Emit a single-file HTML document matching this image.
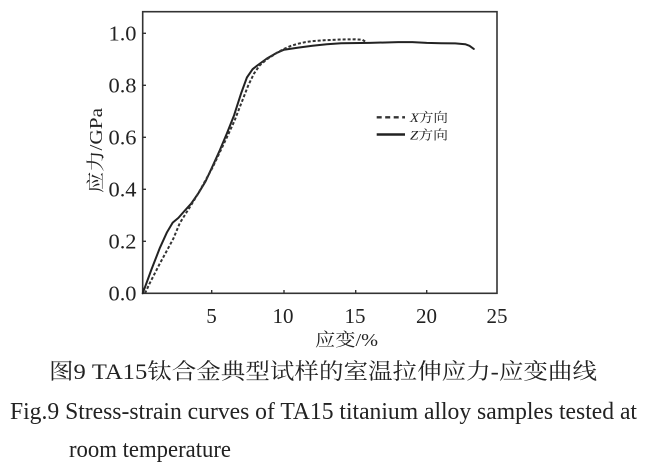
<!DOCTYPE html>
<html>
<head>
<meta charset="utf-8">
<style>
  html, body { margin: 0; padding: 0; background: #ffffff; }
  svg { display: block; }
  .serif { font-family: "Liberation Serif", "Noto Serif CJK SC", serif; fill: #222; }
  .cjk { font-family: "Liberation Serif", "Noto Serif CJK SC", "Noto Sans CJK SC", serif; fill: #222; }
</style>
</head>
<body>
<svg width="645" height="471" viewBox="0 0 645 471" xmlns="http://www.w3.org/2000/svg">
  <rect x="0" y="0" width="645" height="471" fill="#ffffff"/>

  <!-- frame -->
  <rect x="142.7" y="11.7" width="354.3" height="281.6" fill="none" stroke="#333" stroke-width="1.6"/>

  <!-- y ticks -->
  <g stroke="#333" stroke-width="1.4">
    <line x1="142.7" y1="33.3" x2="146" y2="33.3"/>
    <line x1="142.7" y1="85.3" x2="146" y2="85.3"/>
    <line x1="142.7" y1="137.3" x2="146" y2="137.3"/>
    <line x1="142.7" y1="189.3" x2="146" y2="189.3"/>
    <line x1="142.7" y1="241.3" x2="146" y2="241.3"/>
    <!-- x ticks -->
    <line x1="211.7" y1="293.3" x2="211.7" y2="290"/>
    <line x1="284" y1="293.3" x2="284" y2="290"/>
    <line x1="355.7" y1="293.3" x2="355.7" y2="290"/>
    <line x1="426.7" y1="293.3" x2="426.7" y2="290"/>
  </g>

  <!-- y tick labels -->
  <g class="serif" font-size="21" text-anchor="end">
    <text x="136.5" y="40.3" textLength="28" lengthAdjust="spacingAndGlyphs">1.0</text>
    <text x="136.5" y="92.3" textLength="28" lengthAdjust="spacingAndGlyphs">0.8</text>
    <text x="136.5" y="144.3" textLength="28" lengthAdjust="spacingAndGlyphs">0.6</text>
    <text x="136.5" y="196.3" textLength="28" lengthAdjust="spacingAndGlyphs">0.4</text>
    <text x="136.5" y="248.3" textLength="28" lengthAdjust="spacingAndGlyphs">0.2</text>
    <text x="136.5" y="300.3" textLength="28" lengthAdjust="spacingAndGlyphs">0.0</text>
  </g>

  <!-- x tick labels -->
  <g class="serif" font-size="21" text-anchor="middle">
    <text x="211.5" y="323">5</text>
    <text x="283" y="323">10</text>
    <text x="355" y="323">15</text>
    <text x="426.5" y="323">20</text>
    <text x="497" y="323">25</text>
  </g>

  <!-- axis labels -->
  <text class="cjk" x="315" y="346" font-size="18" textLength="63" lengthAdjust="spacingAndGlyphs">应变/%</text>
  <text class="cjk" font-size="18" transform="translate(102,193) rotate(-90)" x="0" y="0" textLength="85" lengthAdjust="spacingAndGlyphs">应力/GPa</text>

  <!-- Z curve (solid) -->
  <polyline fill="none" stroke="#222" stroke-width="2" stroke-linejoin="round" stroke-linecap="round"
    points="142.7,293.3 145.6,285.5 151.3,269.9 159.9,247.8 167.0,232.2 172.7,222.6 178.4,217.9 184.1,211.4 191.2,203.6 198.4,193.2 205.5,181.5 212.7,165.9 219.8,150.3 226.9,133.4 234.1,115.2 241.2,93.1 246.9,77.5 252.6,69.2 256.9,65.8 266.9,58.5 276.9,52.8 284.0,49.7 298.3,47.6 312.5,45.8 326.8,44.2 341.1,43.2 369.6,42.9 398.2,42.1 412.4,42.1 426.7,42.9 441.0,43.2 455.2,43.4 465.2,44.2 469.5,45.8 473.8,48.9"/>

  <!-- X curve (dashed) -->
  <polyline fill="none" stroke="#333" stroke-width="2" stroke-dasharray="3 2" stroke-linejoin="round"
    points="145.0,293.3 149.9,282.9 159.9,263.4 167.0,250.4 173.3,238.7 179.8,223.1 185.5,214.0 191.2,204.9 198.4,193.2 212.7,167.2 226.9,137.3 234.1,121.7 241.2,103.5 248.3,85.3 254.0,73.6 259.7,65.3 266.9,59.3 276.9,52.8 284.0,48.9 291.1,45.8 298.3,43.7 305.4,42.1 312.5,41.1 326.8,40.1 341.1,39.5 355.4,39.3 362.5,39.8 365.3,41.6"/>

  <!-- legend -->
  <line x1="376.7" y1="117.3" x2="405" y2="117.3" stroke="#333" stroke-width="2.4" stroke-dasharray="5 3.5"/>
  <line x1="376.7" y1="134.5" x2="405" y2="134.5" stroke="#222" stroke-width="2.6"/>
  <text class="cjk" x="410" y="122" font-size="13" textLength="38" lengthAdjust="spacingAndGlyphs"><tspan font-style="italic">X</tspan>方向</text>
  <text class="cjk" x="410" y="139.5" font-size="13" textLength="38" lengthAdjust="spacingAndGlyphs"><tspan font-style="italic">Z</tspan>方向</text>

  <!-- captions -->
  <text class="cjk" x="49" y="379" font-size="22" textLength="548" lengthAdjust="spacingAndGlyphs">图9 TA15钛合金典型试样的室温拉伸应力-应变曲线</text>
  <text class="serif" x="10" y="419" font-size="24" textLength="627" lengthAdjust="spacingAndGlyphs">Fig.9  Stress-strain curves of TA15 titanium alloy samples tested at</text>
  <text class="serif" x="69" y="457" font-size="24" textLength="162" lengthAdjust="spacingAndGlyphs">room temperature</text>
</svg>
</body>
</html>
